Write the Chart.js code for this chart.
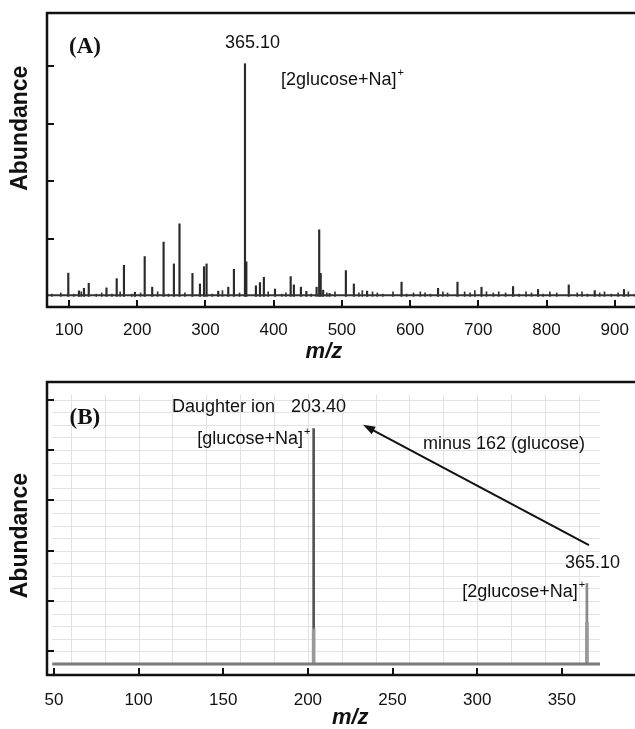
<!DOCTYPE html>
<html>
<head>
<meta charset="utf-8">
<script src="https://cdn.jsdelivr.net/npm/chart.js@4.4.0/dist/chart.umd.min.js"></script>
<style>
  html, body { margin: 0; padding: 0; background: #fff; overflow: hidden; width: 635px; height: 729px; }
  .panel { position: absolute; left: 0; }
  #panelA { top: 0; }
  #panelB { top: 365px; }
</style>
</head>
<body>
<div class="panel" id="panelA"><canvas id="chartA" width="700" height="365"></canvas></div>
<div class="panel" id="panelB"><canvas id="chartB" width="700" height="364"></canvas></div>
<script>
// (A) full scan spectrum, relative abundance (tick step = 25)
const mzA = [99, 114.6, 122, 129, 155, 170, 180.6, 196.7, 211, 222, 238.7, 253.8, 262, 281, 292, 298, 301.7,
  318.8, 333.5, 341.8, 358, 360, 374, 380, 385.7, 402, 425, 429.7, 440, 448, 463, 466.8, 469, 472.6, 482,
  505.9, 517.6, 537, 587.5, 641, 669.5, 704.7, 751, 787.6, 832.6, 870.7, 913.6]
const intA = [10.1, 2.4, 3.5, 5.7, 3.7, 7.7, 13.5, 1.8, 17.3, 4, 23.6, 14.1, 31.5, 10, 5.4, 12.9, 14.1,
  2.3, 4, 11.8, 101, 15, 4.6, 6, 8.3, 3.2, 8.6, 5, 4, 2.2, 4, 28.9, 10, 2.7, 1.3,
  11.2, 5.4, 2.3, 6.2, 3.5, 6.2, 4, 4.3, 3, 5, 2.5, 3]
// small background peaks
const noiseMzA = [75, 88, 107, 118, 140, 148, 163, 175, 192, 205, 230, 246, 270, 310, 325, 350, 392, 412, 418,
  455, 478, 490, 525, 530, 545, 552, 560, 575, 595, 605, 615, 622, 630, 648, 655, 680, 688, 695, 712, 722,
  730, 740, 760, 770, 778, 795, 805, 815, 845, 852, 860, 878, 885, 895, 905, 920, 930]
const noiseIntA = [1, 1.5, 1, 2, 1, 1.5, 1, 2, 1, 1.5, 2, 1, 1.5, 1, 2.5, 1.5, 2, 1, 1.5,
  1, 1.5, 2, 1.5, 2.5, 2, 1.5, 1, 2, 1, 1.5, 2, 1.5, 1, 2, 1.5, 2, 1.5, 2.5, 2, 1.5,
  2, 1.5, 1, 2, 1.5, 1, 2, 1.5, 1.5, 2, 1, 1.5, 2, 1, 1.5, 2, 1]
const baselineA = [67.8, 1025]
const xTicksA = [100, 200, 300, 400, 500, 600, 700, 800, 900]
const yTicksA = [25, 50, 75, 100]

// (B) MS/MS of 365.10
const mzB = [203.4, 364.8]
const intB = [18.7, 6.4]
const baseMzB = [203.4, 364.8]
const baseIntB = [2.8, 3.3]
const baselineB = [49, 372.5]
const xTicksB = [50, 100, 150, 200, 250, 300, 350]
const yTicksB = [1, 5, 9, 13, 17, 21]
const gridXB = [60, 80, 100, 120, 140, 160, 180, 200, 220, 240, 260, 280, 300, 320, 340, 360]
const gridYB = [1, 2, 3, 4, 5, 6, 7, 8, 9, 10, 11, 12, 13, 14, 15, 16, 17, 18, 19, 20, 21]

const SANS = "'Liberation Sans', Arial, sans-serif"
const SERIF = "'Liberation Serif', 'Times New Roman', serif"

const pts = (xs, ys) => xs.map((x, i) => ({ x: x, y: ys[i] }))

// frame on left/top/bottom with ticks pointing inward
const framePlugin = {
  id: 'frame',
  afterDraw(chart, args, opts) {
    const { ctx, chartArea: a, scales: { x, y } } = chart
    ctx.save()
    ctx.strokeStyle = '#111'
    ctx.lineWidth = 2.5
    ctx.beginPath()
    ctx.moveTo(a.right + 5, a.top)
    ctx.lineTo(a.left, a.top)
    ctx.lineTo(a.left, a.bottom)
    ctx.lineTo(a.right + 5, a.bottom)
    ctx.stroke()
    ctx.lineWidth = 2
    ctx.beginPath()
    opts.xTicks.forEach(v => {
      const px = Math.round(x.getPixelForValue(v))
      ctx.moveTo(px, a.bottom)
      ctx.lineTo(px, a.bottom - 7)
    })
    opts.yTicks.forEach(v => {
      const py = Math.round(y.getPixelForValue(v))
      ctx.moveTo(a.left, py)
      ctx.lineTo(a.left + 7, py)
    })
    ctx.stroke()
    ctx.restore()
  }
}

// light grid box behind the MS/MS trace
const gridBoxPlugin = {
  id: 'gridBox',
  beforeDatasetsDraw(chart, args, opts) {
    if (!opts.xs) return
    const { ctx, scales: { x, y } } = chart
    const x0 = x.getPixelForValue(opts.xRange[0]), x1 = x.getPixelForValue(opts.xRange[1])
    const y0 = y.getPixelForValue(0), y1 = y.getPixelForValue(opts.ys[opts.ys.length - 1])
    ctx.save()
    ctx.strokeStyle = '#e2e2e2'
    ctx.lineWidth = 1
    ctx.beginPath()
    opts.xs.forEach(v => {
      const px = Math.round(x.getPixelForValue(v)) + 0.5
      ctx.moveTo(px, y0)
      ctx.lineTo(px, y1 - 5)
    })
    opts.ys.forEach(v => {
      const py = Math.round(y.getPixelForValue(v)) + 0.5
      ctx.moveTo(x0, py)
      ctx.lineTo(x1, py)
    })
    ctx.stroke()
    ctx.restore()
  }
}

// text labels, arrow and axis titles
const notesPlugin = {
  id: 'notes',
  afterDraw(chart, args, opts) {
    const { ctx, chartArea: a, scales: { x, y } } = chart
    ctx.save()
    ctx.fillStyle = '#111'
    ctx.textBaseline = 'middle'
    opts.texts.forEach(t => {
      ctx.font = t.font || `18px ${SANS}`
      const px = x.getPixelForValue(t.x), py = y.getPixelForValue(t.y)
      const w = ctx.measureText(t.text).width
      const supW = t.sup ? 7 : 0
      let left = px
      if (t.align === 'center') left = px - (w + supW) / 2
      if (t.align === 'right') left = px - w - supW
      ctx.textAlign = 'left'
      ctx.fillText(t.text, left, py)
      if (t.sup) {
        ctx.font = `11px ${SANS}`
        ctx.fillText(t.sup, left + w + 1, py - 7)
      }
    })
    if (opts.arrow) {
      const [m0, v0, m1, v1] = opts.arrow
      const x0 = x.getPixelForValue(m0), y0 = y.getPixelForValue(v0)
      const x1 = x.getPixelForValue(m1), y1 = y.getPixelForValue(v1)
      const ang = Math.atan2(y1 - y0, x1 - x0)
      ctx.strokeStyle = '#111'
      ctx.lineWidth = 2
      ctx.beginPath()
      ctx.moveTo(x0, y0)
      ctx.lineTo(x1 - 8 * Math.cos(ang), y1 - 8 * Math.sin(ang))
      ctx.stroke()
      ctx.beginPath()
      ctx.moveTo(x1, y1)
      ctx.lineTo(x1 - 13 * Math.cos(ang - 0.33), y1 - 13 * Math.sin(ang - 0.33))
      ctx.lineTo(x1 - 13 * Math.cos(ang + 0.33), y1 - 13 * Math.sin(ang + 0.33))
      ctx.closePath()
      ctx.fill()
    }
    // y title
    ctx.save()
    ctx.font = `bold 23px ${SANS}`
    ctx.textAlign = 'center'
    ctx.translate(a.left - 26, y.getPixelForValue(opts.yTitleAt))
    ctx.rotate(-Math.PI / 2)
    ctx.fillText('Abundance', 0, 0)
    ctx.restore()
    // x title
    ctx.font = `italic bold 22px ${SANS}`
    ctx.textAlign = 'center'
    ctx.fillText('m/z', x.getPixelForValue(opts.xTitleAt), a.bottom + opts.xTitleGap)
    ctx.restore()
  }
}

function makeChart(id, cfg) {
  return new Chart(document.getElementById(id), {
    type: 'bar',
    data: { datasets: cfg.datasets },
    options: {
      responsive: false,
      animation: false,
      devicePixelRatio: 1,
      layout: { padding: { left: 0, right: 0, top: cfg.top, bottom: 0 } },
      plugins: {
        legend: { display: false },
        tooltip: { enabled: false },
        frame: { xTicks: cfg.xTicks, yTicks: cfg.yTicks },
        gridBox: cfg.gridBox || {},
        notes: cfg.notes
      },
      scales: {
        x: {
          type: 'linear',
          offset: false,
          min: cfg.xMin,
          max: cfg.xMax,
          grid: { display: false },
          border: { display: false },
          ticks: {
            autoSkip: false,
            maxRotation: 0,
            padding: cfg.labelPad,
            color: '#111',
            font: { family: SANS, size: 17 }
          },
          afterBuildTicks: s => { s.ticks = cfg.xTicks.map(v => ({ value: v })) },
          afterFit: s => { s.height = cfg.xAxisH }
        },
        y: {
          min: cfg.yMin,
          max: cfg.yMax,
          grid: { display: false },
          border: { display: false },
          ticks: { display: false },
          afterFit: s => { s.width = 47 }
        }
      }
    },
    plugins: [gridBoxPlugin, framePlugin, notesPlugin]
  })
}

makeChart('chartA', {
  top: 13, xAxisH: 58, labelPad: 5,
  xMin: 67.8, xMax: 1025, yMin: -4.6, yMax: 123,
  xTicks: xTicksA, yTicks: yTicksA,
  datasets: [
    { type: 'line', data: pts(baselineA, [0.5, 0.5]), borderColor: '#333', borderWidth: 2, pointRadius: 0 },
    { data: pts(noiseMzA, noiseIntA), backgroundColor: '#333', barThickness: 1, grouped: false },
    { data: pts(mzA, intA), backgroundColor: '#2a2a2a', barThickness: 1.5, grouped: false }
  ],
  notes: {
    texts: [
      { text: '(A)', x: 123.5, y: 108.3, align: 'center', font: `bold 23px ${SERIF}` },
      { text: '365.10', x: 368.9, y: 110, align: 'center' },
      { text: '[2glucose+Na]', sup: '+', x: 410.7, y: 94, align: 'left' }
    ],
    yTitleAt: 73, xTitleAt: 473.7, xTitleGap: 45
  }
})

makeChart('chartB', {
  top: 17, xAxisH: 54, labelPad: 7,
  xMin: 45.9, xMax: 431.6, yMin: -0.87, yMax: 22.4,
  xTicks: xTicksB, yTicks: yTicksB,
  gridBox: { xs: gridXB, ys: gridYB, xRange: baselineB },
  datasets: [
    { type: 'line', data: pts(baselineB, [0, 0]), borderColor: '#7a7a7a', borderWidth: 3, pointRadius: 0 },
    { data: pts(baseMzB, baseIntB), backgroundColor: '#999', barThickness: 3, grouped: false },
    { data: pts(mzB, intB), backgroundColor: ['#555', '#888'], barThickness: 2, grouped: false }
  ],
  notes: {
    texts: [
      { text: '(B)', x: 68.3, y: 19.5, align: 'center', font: `bold 23px ${SERIF}` },
      { text: 'Daughter ion', x: 119.7, y: 20.4, align: 'left' },
      { text: '203.40', x: 190, y: 20.4, align: 'left' },
      { text: '[glucose+Na]', sup: '+', x: 201.2, y: 17.9, align: 'right' },
      { text: 'minus 162 (glucose)', x: 268, y: 17.5, align: 'left' },
      { text: '365.10', x: 351.8, y: 8.0, align: 'left' },
      { text: '[2glucose+Na]', sup: '+', x: 363.6, y: 5.7, align: 'right' }
    ],
    arrow: [366, 9.44, 232.5, 19.0],
    yTitleAt: 10.2, xTitleAt: 225, xTitleGap: 43
  }
})
</script>
</body>
</html>
